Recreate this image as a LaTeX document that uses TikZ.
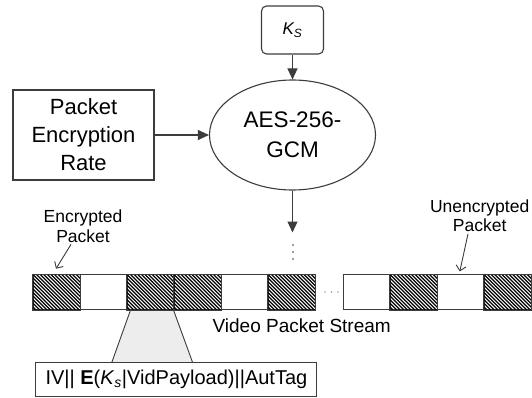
\documentclass[tikz,border=0pt]{standalone}
\usepackage{fontspec}
\setmainfont{Liberation Sans}
\usetikzlibrary{arrows.meta,shapes.geometric,calc}
\definecolor{edge}{HTML}{3C3C3C}
\definecolor{ink}{HTML}{1E1E1E}
\definecolor{trap}{HTML}{EDEDED}
\begin{document}
\begin{tikzpicture}[x=1pt,y=-1pt,
  font=\color{ink},
  box/.style={draw=edge,line width=1.1pt,inner sep=0pt,align=center,fill=white},
  arr/.style={draw=edge,line width=1.1pt,-{Triangle[length=11pt,width=10pt]}},
  pointer/.style={draw=edge,line width=0.9pt,-{Straight Barb[length=5pt,width=10pt]}},
  cell/.style={draw=edge,line width=1pt,minimum width=47pt,minimum height=35pt,inner sep=0pt,fill=white},
  stripe/.style={line width=1.25pt,black},
  label/.style={align=center,inner sep=0pt},
]
\useasboundingbox (0,0) rectangle (532,398);

% key, cipher and rate input
\node[box,rounded corners=5pt,minimum width=62pt,minimum height=48pt,
  font=\fontsize{17}{19}\selectfont] (key) at (292.5,30)
  {\textit{K\textsubscript{S}}};
\node[box,ellipse,minimum width=166pt,minimum height=110pt,
  font=\fontsize{22.5}{29.5}\selectfont] (aes) at (292.5,135)
  {AES-256-\\GCM};
\node[box,minimum width=141pt,minimum height=90pt,
  font=\fontsize{22}{28}\selectfont] (rate) at (83.5,135)
  {Packet\\Encryption\\Rate};

\draw[arr] (key) -- (aes);
\draw[arr] (rate) -- (aes);
\coordinate (tip) at (292.5,232.5);
\draw[arr] (aes.south) -- (tip);

% continuation dots below the cipher
\foreach \yy in {245,252,259} \fill[edge] (293,\yy) circle (0.8);

% zoom wedge from the third packet to the payload box
\coordinate (wtl) at (130.7,309.5);
\coordinate (wtr) at (173.3,309.5);
\coordinate (wbl) at (111.7,362.7);
\coordinate (wbr) at (192.7,362.7);
\fill[trap] (wtl) -- (wtr) -- (wbr) -- (wbl) -- cycle;
\draw[edge,line width=0.9pt] (wtl) -- (wbl) (wtr) -- (wbr);

% packet stream
\node[cell] (a1) at (56.5,292) {};
\node[cell] (a2) at (103.5,292) {};
\node[cell] (a3) at (150.5,292) {};
\node[cell] (a4) at (197.5,292) {};
\node[cell] (a5) at (244.5,292) {};
\node[cell] (a6) at (291.5,292) {};
\foreach \xx in {325,331.5,338} \fill[edge] (\xx,292) circle (0.7);
\node[cell] (b1) at (366.5,292) {};
\node[cell] (b2) at (413.5,292) {};
\node[cell] (b3) at (460.5,292) {};
\node[cell] (b4) at (507.5,292) {};

% diagonal hatching of the encrypted packets
\foreach \c in {a1,a3,a4,a6,b2,b4} {
  \begin{scope}
    \clip (\c.north west) rectangle (\c.south east);
    \foreach \d in {-36,-32.4,...,48} \draw[stripe] ($(\c.north west)+(\d,0)$) -- ++(36,36);
  \end{scope}
  \draw[edge,line width=1pt] (\c.north west) rectangle (\c.south east);
}

\node[label,font=\fontsize{19}{22}\selectfont] (vps) at (301.7,326) {Video Packet Stream};

% payload layout
\node[box,minimum width=281pt,minimum height=34pt,
  font=\fontsize{20}{24}\selectfont] (payload) at (176.4,379.7)
  {IV|| \textbf{E}(\textit{K}\textsubscript{\textit{s}}|VidPayload)||AutTag};

% callouts
\node[label,font=\fontsize{17.5}{19.5}\selectfont] (enc) at (83,226) {Encrypted\\Packet};
\node[label,font=\fontsize{17.5}{19.5}\selectfont] (unenc) at (479.7,215.5) {Unencrypted\\Packet};
\coordinate (encto) at (56,268.7);
\coordinate (unencto) at (459.8,271.4);
\draw[pointer] ([xshift=-12pt,yshift=-2pt]enc.south) -- (encto);
\draw[pointer] ([xshift=-11.7pt,yshift=-2pt]unenc.south) -- (unencto);
\end{tikzpicture}
\end{document}
